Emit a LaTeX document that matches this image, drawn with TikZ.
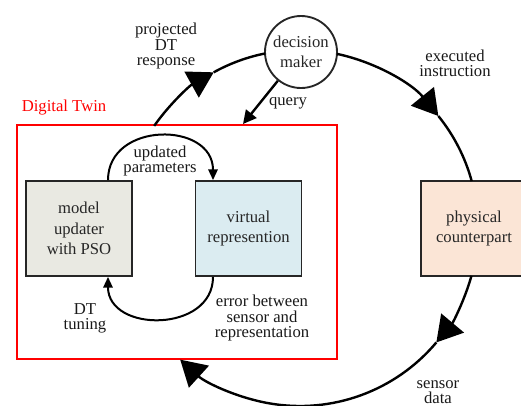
\documentclass[tikz,border=0pt]{standalone}
\usepackage{fontspec}
\setmainfont{Liberation Serif}
\usetikzlibrary{arrows.meta,calc}
\definecolor{mugray}{RGB}{233,233,226}
\definecolor{vrblue}{RGB}{219,236,241}
\definecolor{pcpeach}{RGB}{251,229,214}
\begin{document}
\begin{tikzpicture}[x=0.75pt,y=-0.75pt,
  lbl/.style={font=\fontsize{12.5pt}{11.3pt}\selectfont, align=center, inner sep=0pt, text=black!90},
  boxtxt/.style={font=\fontsize{12.5pt}{15.4pt}\selectfont, align=center, text=black!85},
  blk/.style={draw=black!85, line width=1.4pt, minimum width=79.5pt, minimum height=71.25pt, inner sep=0pt, boxtxt},
  ringarr/.style={line width=1.8pt, -{Triangle[length=19pt,width=22pt]}},
  ringplain/.style={line width=1.8pt},
  innerarr/.style={line width=1.5pt, -{Triangle[length=8pt,width=7pt]}},
]
\clip (0,0) rectangle (521,405);
\coordinate (C) at (300,228);
% digital twin frame
\node[draw=red, line width=2.2pt, minimum width=240pt, minimum height=175.5pt, inner sep=0pt] (dt) at (177,242) {};
\node[lbl, text=red] (dtl) at (64,108) {Digital Twin};
% nodes
\node[blk, fill=mugray] (mu) at (79,228.5) {model\\updater\\with PSO};
\node[blk, fill=vrblue] (vr) at (248.5,228.5) {virtual\\represention};
\node[blk, fill=pcpeach] (pc) at (474,228.5) {physical\\counterpart};
\node[draw=black!85, circle, line width=1.4pt, minimum size=54pt, inner sep=0pt, boxtxt] (dm) at (301,52) {decision\\maker};
% labels
\node[lbl] (l1) at (166,46) {projected\\DT\\response};
\node[lbl] (l2) at (455,63) {executed\\instruction};
\node[lbl] (l3) at (288,103) {query};
\node[lbl] (l4) at (160,161) {updated\\parameters};
\node[lbl] (l5) at (85,318) {DT\\tuning};
\node[lbl] (l6) at (262,318) {error between\\sensor and\\representation};
\node[lbl] (l7) at (438,392) {sensor\\data};
% ring coordinates
\coordinate (r1) at ($(C)+(215:178)$);
\coordinate (pr) at ($(C)+(241:178)$);
\coordinate (r3) at ($(C)+(282:178)$);
\coordinate (ex) at ($(C)+(321:178)$);
\coordinate (r5) at ($(C)+(15.6:178)$);
\coordinate (sd) at ($(C)+(40:178)$);
% ring connectors
\draw[ringarr] (r1) arc[start angle=215, end angle=241, radius=178];
\draw[ringplain] (pr) arc[start angle=241, end angle=258.7, radius=178];
\draw[ringarr] (r3) arc[start angle=282, end angle=321, radius=178];
\draw[ringplain] (ex) arc[start angle=321, end angle=344.7, radius=178];
\draw[ringarr] (r5) arc[start angle=15.6, end angle=40, radius=178];
\draw[ringarr] (sd) arc[start angle=40, end angle=132.3, radius=178];
% query
\coordinate (qe) at (243,124);
\draw[line width=1.8pt, -{Triangle[length=10pt,width=10pt]}] (dm) -- (qe);
% inner loop
\draw[innerarr] (mu.north -| 108,0) .. controls +(0,-59) and +(0,-59) .. (vr.north -| 213,0);
\draw[innerarr] (vr.south -| 213,0) .. controls +(0,56) and +(0,56) .. (mu.south -| 108,0);
\end{tikzpicture}
\end{document}
